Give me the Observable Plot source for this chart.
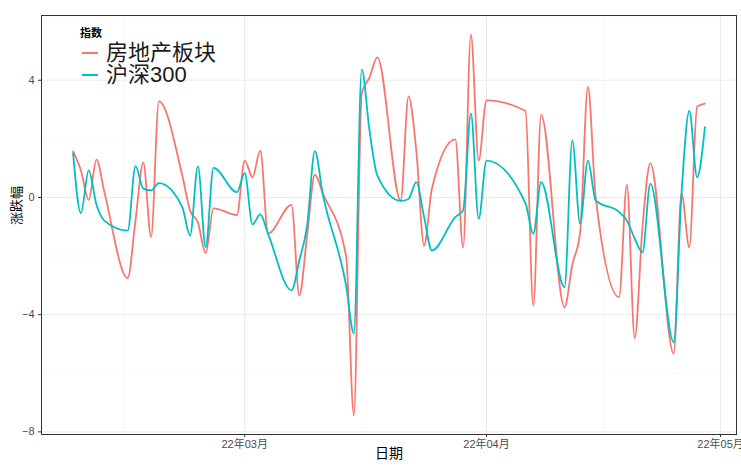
<!DOCTYPE html>
<html>
<head>
<meta charset="utf-8">
<script src="https://cdn.jsdelivr.net/npm/d3@7"></script>
<script src="https://cdn.jsdelivr.net/npm/@observablehq/plot@0.6"></script>
<style>
  body { margin: 0; background: #fff; }
  #wrap { position: relative; width: 741px; height: 466px; font-family: "Liberation Sans", "Noto Sans CJK SC", sans-serif; }
  #wrap svg { overflow: visible; }
  #legend { position: absolute; left: 0; top: 0; width: 0; height: 0; }
  .lt { position: absolute; left: 80px; top: 27px; font-size: 11px; line-height: 12px; font-weight: bold; color: #000; white-space: nowrap; }
  .row { position: absolute; left: 82px; height: 21px; display: flex; align-items: center; white-space: nowrap; }
  .sw { display: inline-block; width: 16px; height: 2px; margin-right: 8px; }
  .lab { font-size: 22px; color: #1a1a1a; line-height: 21px; }
</style>
</head>
<body>
<div id="wrap"></div>
<script>
// ---- data ----
const dates = ["2022-02-07","2022-02-08","2022-02-09","2022-02-10","2022-02-11","2022-02-14","2022-02-15","2022-02-16","2022-02-17","2022-02-18","2022-02-21","2022-02-22","2022-02-23","2022-02-24","2022-02-25","2022-02-28","2022-03-01","2022-03-02","2022-03-03","2022-03-04","2022-03-07","2022-03-08","2022-03-09","2022-03-10","2022-03-11","2022-03-14","2022-03-15","2022-03-16","2022-03-17","2022-03-18","2022-03-21","2022-03-22","2022-03-23","2022-03-24","2022-03-25","2022-03-28","2022-03-29","2022-03-30","2022-03-31","2022-04-01","2022-04-06","2022-04-07","2022-04-08","2022-04-11","2022-04-12","2022-04-13","2022-04-14","2022-04-15","2022-04-18","2022-04-19","2022-04-20","2022-04-21","2022-04-22","2022-04-25","2022-04-26","2022-04-27","2022-04-28","2022-04-29"];
const realEstate = [1.57,0.92,-0.08,1.29,0.2,-2.75,-0.78,1.2,-1.35,3.28,0.75,-0.45,-0.85,-1.9,-0.37,-0.6,1.26,0.69,1.6,-1.23,-0.25,-3.35,-1.3,0.78,0.15,-2.0,-7.44,3.55,4.1,4.78,-0.1,3.45,1.6,-1.64,0.3,1.98,-1.71,5.56,1.26,3.31,2.95,-3.69,2.83,-3.75,-2.3,-1.2,3.77,0.0,-3.4,0.44,-4.8,-1.0,1.16,-5.33,0.14,-1.7,3.1,3.2];
const hs300 = [1.51,-0.53,0.92,-0.25,-0.79,-1.13,1.07,0.3,0.24,0.49,-0.33,-1.3,1.06,-1.7,1.01,0.18,0.83,-0.92,-0.58,-1.24,-3.17,-2.15,-0.97,1.58,0.13,-3.0,-4.64,4.37,2.29,0.75,-0.12,-0.05,0.52,-0.67,-1.81,-0.67,-0.44,2.86,-0.73,1.26,-0.2,-1.24,0.52,-3.06,1.95,-0.9,1.26,-0.1,-0.5,-0.79,-1.4,-1.87,0.47,-4.94,0.13,2.95,0.69,2.4];
const seriesNames = ["房地产板块", "沪深300"];
const seriesColors = ["#F8766D", "#00BFC4"];
const xTicks = ["2022-03-01", "2022-04-01", "2022-05-01"];
const xMinorGrid = ["2022-02-13T12:00:00Z", "2022-03-16T12:00:00Z", "2022-04-16T00:00:00Z"];
const yTicks = [-8, -4, 0, 4];
const yMinorGrid = [-6, -2, 2, 6];
const legendTitle = "指数";
const xTitle = "日期";
const yTitle = "涨跌幅";

// ---- build ----
const parse = s => new Date(s);
const table = [];
dates.forEach((d, i) => table.push({date: parse(d), value: realEstate[i], series: seriesNames[0]}));
dates.forEach((d, i) => table.push({date: parse(d), value: hs300[i], series: seriesNames[1]}));

const x0 = parse(dates[0]), x1 = parse(dates[dates.length - 1]);
const span = x1 - x0;
const yMin = d3.min([...realEstate, ...hs300]), yMax = d3.max([...realEstate, ...hs300]);
const yPad = (yMax - yMin) * 0.05;
const fmt = d3.utcFormat("%y年%m月");
const ff = '"Liberation Sans", "Noto Sans CJK SC", sans-serif';

const chart = Plot.plot({
  width: 741,
  height: 466,
  marginLeft: 41,
  marginRight: 5,
  marginTop: 15,
  marginBottom: 32,
  style: {fontFamily: ff, fontSize: "11px", color: "#4d4d4d", background: "#fff", overflow: "visible"},
  x: {type: "utc", domain: [new Date(+x0 - span * 0.05), new Date(+x1 + span * 0.05)]},
  y: {domain: [yMin - yPad, yMax + yPad]},
  color: {domain: seriesNames, range: seriesColors},
  marks: [
    Plot.gridY(yMinorGrid, {stroke: "#f3f3f3", strokeOpacity: 1, strokeWidth: 0.6}),
    Plot.gridX(xMinorGrid.map(parse), {stroke: "#f3f3f3", strokeOpacity: 1, strokeWidth: 0.6}),
    Plot.gridY(yTicks, {stroke: "#ebebeb", strokeOpacity: 1, strokeWidth: 1}),
    Plot.gridX(xTicks.map(parse), {stroke: "#ebebeb", strokeOpacity: 1, strokeWidth: 1}),
    Plot.line(table, {x: "date", y: "value", stroke: "series", z: "series", curve: "monotone-x", strokeWidth: 1.8}),
    Plot.frame({stroke: "#333", strokeWidth: 1}),
    Plot.axisY(yTicks, {tickSize: 3, tickPadding: 4, color: "#4d4d4d", stroke: "#333", fill: "#4d4d4d", fontSize: 11, label: null}),
    Plot.axisX(xTicks.map(parse), {tickSize: 3, tickPadding: 3, color: "#4d4d4d", stroke: "#333", fill: "#4d4d4d", fontSize: 11, tickFormat: fmt, label: null}),
    Plot.text([yTitle], {frameAnchor: "left", dx: -25, rotate: -90, text: d => d, fontSize: 13, fill: "#000"}),
    Plot.text([xTitle], {frameAnchor: "bottom", dy: 23, text: d => d, fontSize: 14, fill: "#000"})
  ]
});

const wrap = document.getElementById("wrap");
wrap.appendChild(chart);

const leg = document.createElement("div");
leg.id = "legend";
const t = document.createElement("div");
t.className = "lt";
t.textContent = legendTitle;
leg.appendChild(t);
seriesNames.forEach((name, i) => {
  const r = document.createElement("div");
  r.className = "row";
  r.style.top = (42 + i * 22) + "px";
  const sw = document.createElement("span");
  sw.className = "sw";
  sw.style.background = seriesColors[i];
  const lab = document.createElement("span");
  lab.className = "lab";
  lab.textContent = name;
  r.appendChild(sw);
  r.appendChild(lab);
  leg.appendChild(r);
});
wrap.appendChild(leg);
</script>
</body>
</html>
